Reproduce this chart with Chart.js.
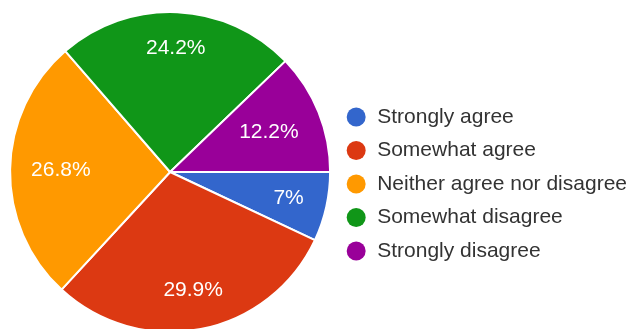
<!DOCTYPE html>
<html>
<head>
<meta charset="utf-8">
<script src="https://cdn.jsdelivr.net/npm/chart.js@4/dist/chart.umd.min.js"></script>
<style>
  body { margin: 0; background: #fff; overflow: hidden; }
  #wrap { position: absolute; left: 0; top: 0; width: 637px; height: 344px; }
</style>
</head>
<body>
<div id="wrap"><canvas id="pie_graph"></canvas></div>
<script>
// answers ####################################################

var answerLabels = [
  "Strongly agree",
  "Somewhat agree",
  "Neither agree nor disagree",
  "Somewhat disagree",
  "Strongly disagree"
];
var answerPercent = [7, 29.9, 26.8, 24.2, 12.2];
var answerColors = ["#3366cc", "#dc3912", "#ff9900", "#109618", "#990099"];

Chart.defaults.font.family = '"Liberation Sans", Arial, sans-serif';

// percent text inside each slice ####################################################

var percentLabels = {
  id: 'percentLabels',
  afterDatasetsDraw: function(chart) {
    var ctx = chart.ctx;
    var arcs = chart.getDatasetMeta(0).data;
    ctx.save();
    ctx.font = '21px "Liberation Sans", Arial, sans-serif';
    ctx.fillStyle = '#fff';
    ctx.textAlign = 'center';
    ctx.textBaseline = 'middle';
    arcs.forEach(function(arc, i) {
      var text = answerPercent[i] + '%';
      var mid = (arc.startAngle + arc.endAngle) / 2;
      var cos = Math.cos(mid);
      var sin = Math.sin(mid);
      var halfW = ctx.measureText(text).width / 2;
      // keep the text box inside the slice
      var dist = arc.outerRadius * 0.87 - (halfW * Math.abs(cos) + 13.5 * Math.abs(sin));
      ctx.fillText(text, arc.x + cos * dist, arc.y + sin * dist);
    });
    ctx.restore();
  }
};

// pie ####################################################

function pieGraph() {
  var ctx = document.getElementById('pie_graph').getContext('2d');
  var baseLabels = Chart.overrides.pie.plugins.legend.labels.generateLabels;
  return new Chart(ctx, {
    type: 'pie',
    data: {
      labels: answerLabels,
      datasets: [{
        data: answerPercent,
        backgroundColor: answerColors,
        borderColor: '#fff',
        borderWidth: 2
      }]
    },
    options: {
      responsive: true,
      maintainAspectRatio: false,
      animation: false,
      rotation: 90,
      layout: { padding: { left: 7, top: 11, bottom: 11, right: 0 } },
      plugins: {
        tooltip: { enabled: false },
        legend: {
          position: 'right',
          align: 'center',
          title: { display: true, text: ' ', font: { size: 15 }, padding: 3 },
          labels: {
            usePointStyle: true,
            pointStyle: 'circle',
            boxWidth: 21,
            boxHeight: 13.4,
            padding: 12.5,
            color: '#333',
            font: { size: 21 },
            generateLabels: function(chart) {
              return baseLabels(chart).map(function(item) {
                item.lineWidth = 0;
                return item;
              });
            }
          }
        }
      }
    },
    plugins: [percentLabels]
  });
}

pieGraph();
</script>
</body>
</html>
